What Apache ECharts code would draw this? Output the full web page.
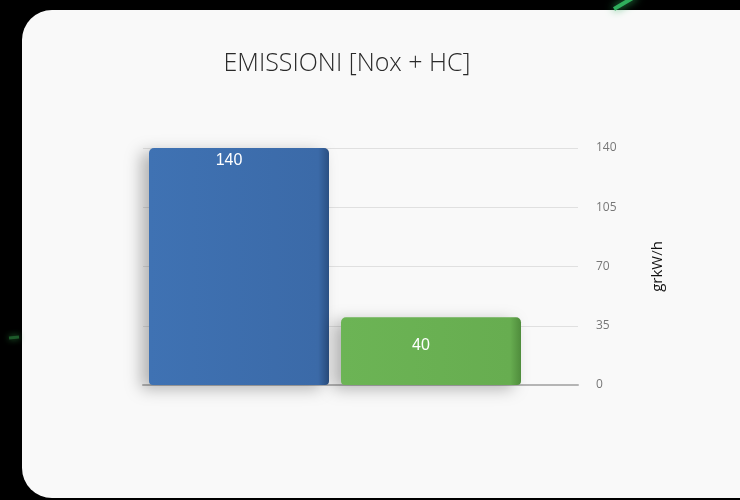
<!DOCTYPE html>
<html>
<head>
<meta charset="utf-8">
<script src="https://cdn.jsdelivr.net/npm/echarts@6/dist/echarts.min.js"></script>
<style>
  html, body { margin: 0; padding: 0; background: #000; }
  #wrap { position: relative; width: 740px; height: 500px; overflow: hidden; background: #000; }
  #card {
    position: absolute; left: 22px; top: 10px; width: 760px; height: 488px;
    border-radius: 30px; background: #f9f9f9;
  }
  #chart { position: absolute; left: 0; top: 0; width: 740px; height: 500px; }
</style>
</head>
<body>
<div id="wrap">
  <div id="card"></div>
  <div id="chart"></div>
</div>
<script>
// dati del grafico
const categories = ["A", "B"];
const values = [140, 40];
const yTicks = [0, 35, 70, 105, 140];
const titleText = "EMISSIONI [Nox + HC]";
const unitName = "grkW/h";

// colori delle barre (faccia frontale + lato) e distanza etichetta
const barColors = [
  ["#3f72b3", "#3b6aa8", "#2a4f82"],
  ["#6cb455", "#67ad50", "#4f8c3c"],
];
const labelDist = [5, 20];

const chart = echarts.init(document.getElementById("chart"));

const barData = values.map((v, i) => ({
  value: v,
  itemStyle: {
    color: new echarts.graphic.LinearGradient(0, 0, 1, 0, [
      { offset: 0, color: barColors[i][0] },
      { offset: 0.94, color: barColors[i][1] },
      { offset: 1, color: barColors[i][2] },
    ]),
  },
  label: { distance: labelDist[i] },
}));

chart.setOption({
  backgroundColor: "transparent",
  animation: false,
  graphic: [
    // striscia verde decorativa in alto (sul nero)
    {
      type: "line",
      shape: { x1: 614, y1: 9, x2: 636, y2: -4 },
      style: { stroke: "#2fae5c", lineWidth: 4, shadowBlur: 8, shadowColor: "#2fae5c" },
    },
    {
      type: "line",
      shape: { x1: 9, y1: 338, x2: 19, y2: 337 },
      style: { stroke: "#1d5a2a", lineWidth: 3, shadowBlur: 6, shadowColor: "#2a7a3a" },
    },
  ],
  title: {
    text: titleText,
    left: 342,
    textAlign: "center",
    top: 46,
    textStyle: {
      fontFamily: "Open Sans",
      fontWeight: 300,
      fontSize: 25,
      color: "#2a2a2a",
    },
  },
  grid: [
    { left: 143, right: 213, top: 148, bottom: 115 },
    { left: 143, right: 162, top: 148, bottom: 115 },
  ],
  xAxis: [
    {
      gridIndex: 0,
      type: "category",
      data: categories,
      axisLine: { show: false },
      axisTick: { show: false },
      axisLabel: { show: false },
    },
    {
      gridIndex: 1,
      type: "category",
      data: categories,
      axisLine: { show: true, lineStyle: { color: "#b5b5b5", width: 2 } },
      axisTick: { show: false },
      axisLabel: { show: false },
    },
  ],
  yAxis: [
    {
      gridIndex: 0,
      type: "value",
      min: yTicks[0],
      max: yTicks[yTicks.length - 1],
      interval: 35,
      show: false,
    },
    {
      gridIndex: 1,
      type: "value",
      position: "right",
      min: yTicks[0],
      max: yTicks[yTicks.length - 1],
      interval: 35,
      axisLine: { show: false },
      axisTick: { show: false },
      splitLine: { lineStyle: { color: "#e0e0e0", width: 1 } },
      axisLabel: {
        color: "#777",
        fontSize: 12,
        fontFamily: "Open Sans",
        margin: 18,
      },
      name: unitName,
      nameLocation: "middle",
      nameRotate: 90,
      nameGap: 72,
      nameTextStyle: {
        color: "#111",
        fontSize: 15,
        fontFamily: "Open Sans",
        padding: [0, 0, 22, 0],
      },
    },
  ],
  series: [
    {
      type: "bar",
      xAxisIndex: 0,
      yAxisIndex: 0,
      data: barData,
      barWidth: 180,
      z: 5,
      itemStyle: {
        borderRadius: [5, 5, 4, 4],
        shadowBlur: 16,
        shadowColor: "rgba(0,0,0,0.28)",
        shadowOffsetX: -8,
        shadowOffsetY: 4,
      },
      label: {
        show: true,
        position: "insideTop",
        offset: [-10, 0],
        color: "#fff",
        fontSize: 16,
        fontFamily: "Liberation Sans",
      },
    },
  ],
});
</script>
</body>
</html>
